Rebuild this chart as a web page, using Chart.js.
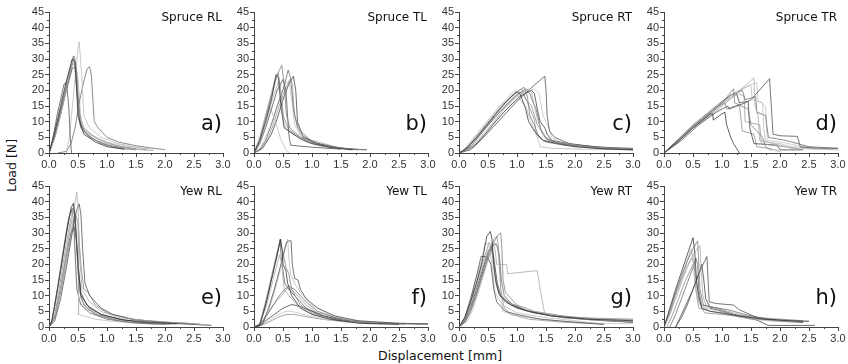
<!DOCTYPE html>
<html>
<head>
<meta charset="utf-8">
<script src="https://cdn.jsdelivr.net/npm/chart.js@4.4.1/dist/chart.umd.min.js"></script>
<style>
  body { margin: 0; background: #fff; }
  #wrap { position: relative; width: 848px; height: 364px; overflow: hidden; }
  canvas { position: absolute; }
  .axis-title { position: absolute; font-family: "DejaVu Sans", Verdana, sans-serif; font-size: 12.5px; color: #111; white-space: nowrap; }
</style>
</head>
<body>
<div id="wrap">
  <div class="axis-title" id="ytitle">Load [N]</div>
  <div class="axis-title" id="xtitle">Displacement [mm]</div>
</div>
<script>
// tick values
const xTicks = [0, 0.5, 1.0, 1.5, 2.0, 2.5, 3.0];
const xMinor = [0.25, 0.75, 1.25, 1.75, 2.25, 2.75];
const yTicks = [0, 5, 10, 15, 20, 25, 30, 35, 40, 45];
const yMinor = [2.5, 7.5, 12.5, 17.5, 22.5, 27.5, 32.5, 37.5, 42.5];

const panelNames = ["Spruce RL", "Spruce TL", "Spruce RT", "Spruce TR", "Yew RL", "Yew TL", "Yew RT", "Yew TR"];
const panelTags = ["a)", "b)", "c)", "d)", "e)", "f)", "g)", "h)"];

// curves: each is a list of [displacement mm, load N]
const spruceRL = [
  [[0,0],[0.1,7],[0.2,15],[0.3,23],[0.4,30],[0.45,29],[0.5,12],[0.6,6],[0.8,3.5],[1.0,2],[1.3,1.2]],
  [[0,0],[0.1,6],[0.2,14],[0.3,22],[0.42,31],[0.47,26],[0.52,10],[0.65,6],[0.9,3],[1.2,1.5],[1.5,1]],
  [[0,0],[0.12,6],[0.25,16],[0.38,28],[0.44,29],[0.5,15],[0.58,7],[0.8,4],[1.1,2],[1.6,1],[1.8,0.8]],
  [[0,0],[0.05,3],[0.15,13],[0.26,22],[0.3,22.5],[0.34,15],[0.37,4],[0.39,0]],
  [[0.3,0],[0.35,5],[0.42,18],[0.48,30],[0.52,35.5],[0.56,26],[0.6,12],[0.7,8],[0.9,5],[1.2,3],[1.6,1.5],[1.7,1.2]],
  [[0.15,0],[0.3,0.5],[0.38,3],[0.45,8],[0.52,16],[0.6,23],[0.66,27],[0.7,27.5],[0.73,25],[0.76,16],[0.78,10],[0.85,8],[1.0,5],[1.2,3.5],[1.5,2.3],[1.8,1.5],[2.0,1.1]],
  [[0,0],[0.1,5],[0.2,12],[0.32,22],[0.43,30.5],[0.47,28],[0.52,13],[0.6,8],[0.8,5],[1.0,3],[1.4,1.5],[1.7,1]],
  [[0,0],[0.08,4],[0.2,13],[0.3,20],[0.4,27],[0.46,27.5],[0.5,18],[0.55,8],[0.7,5],[1.0,2.5],[1.3,1.5]],
  [[0,0],[0.1,5],[0.22,14],[0.35,25],[0.44,31],[0.5,24],[0.56,9],[0.7,6],[1.0,3.5],[1.4,2],[1.8,1.2]],
  [[0,0],[0.1,6],[0.2,14],[0.3,21],[0.4,28],[0.44,28.5],[0.48,20],[0.53,9],[0.65,6.5],[0.9,4],[1.2,2.2],[1.5,1.4]]
];

const spruceTL = [
  [[0,0],[0.1,4],[0.2,10],[0.3,17],[0.38,25],[0.42,24],[0.47,14],[0.52,8],[0.6,7],[0.8,4.5],[1.0,3],[1.3,1.8],[1.7,1]],
  [[0,0],[0.1,4],[0.2,11],[0.3,18],[0.4,25],[0.48,28],[0.52,22],[0.56,12],[0.62,8],[0.8,5],[1.1,2.8],[1.5,1.5],[1.9,1]],
  [[0,0],[0.1,3],[0.2,9],[0.29,15.5],[0.35,19],[0.43,23],[0.48,18],[0.52,9],[0.6,7],[0.9,3.5],[1.2,2],[1.6,1.2]],
  [[0,0],[0.1,3],[0.2,8],[0.3,14],[0.4,20],[0.5,23.5],[0.55,20],[0.6,6],[0.63,2.5],[0.9,2],[1.2,1.6],[1.5,1.2]],
  [[0,0],[0.08,3],[0.16,9],[0.25,15],[0.3,13.5],[0.38,9.5],[0.46,4.5],[0.55,1],[0.6,0]],
  [[0,0],[0.1,1],[0.2,4],[0.3,9],[0.4,15],[0.5,20],[0.59,26.5],[0.63,24],[0.68,14],[0.75,8],[1.0,3.5],[1.3,2],[1.8,1]],
  [[0,0],[0.15,2],[0.25,5],[0.35,10],[0.45,16],[0.55,21],[0.63,23.7],[0.66,22],[0.7,12],[0.8,6],[1.0,4],[1.4,2],[1.75,1]],
  [[0,0],[0.15,1.5],[0.3,6],[0.4,11],[0.5,17],[0.6,22],[0.68,24.5],[0.72,20],[0.75,10],[0.85,5],[1.1,3],[1.5,1.5],[1.95,1]],
  [[0,0],[0.12,2],[0.25,7],[0.35,12],[0.45,18],[0.55,22.5],[0.6,23],[0.65,17],[0.7,9],[0.8,5.5],[1.1,3],[1.4,1.8],[1.7,1]],
  [[0,0],[0.1,5],[0.2,12],[0.3,19],[0.37,24],[0.42,25.5],[0.46,20],[0.5,12],[0.6,7.5],[0.8,5],[1.0,3.2],[1.4,1.8]]
];

const spruceRT = [
  [[0,0],[0.1,1],[0.3,5],[0.5,9.5],[0.7,14],[0.9,18],[1.0,19.5],[1.05,19],[1.15,14],[1.2,10],[1.3,7],[1.45,4],[1.7,3],[2.0,2],[2.5,1.3],[3.0,1]],
  [[0,0],[0.15,1.5],[0.4,7],[0.6,11.5],[0.8,16],[1.0,19.5],[1.12,21],[1.18,18],[1.22,12],[1.3,9],[1.38,5],[1.5,3.5],[1.8,2.5],[2.3,1.6],[3.0,1.1]],
  [[0,0],[0.2,1.5],[0.4,5.5],[0.6,10],[0.8,14.5],[1.0,18],[1.2,20.5],[1.25,19.5],[1.3,15],[1.35,11],[1.4,8],[1.5,5],[1.7,3.5],[2.2,2],[3.0,1.2]],
  [[0,0],[0.2,1],[0.4,4.5],[0.6,8.5],[0.8,12.5],[1.0,16.5],[1.2,20],[1.35,22.5],[1.48,24.5],[1.5,20],[1.52,12],[1.56,7],[1.65,5],[1.9,3],[2.4,1.8],[3.0,1.2]],
  [[0,0],[0.1,1.5],[0.3,6],[0.5,10.5],[0.7,15],[0.9,19],[0.97,19.8],[1.05,17],[1.15,15],[1.2,12],[1.35,5],[1.4,2],[1.6,1.5],[2.2,1.2],[3.0,1]],
  [[0,0],[0.2,2],[0.4,6.5],[0.6,11],[0.8,15],[1.0,18.5],[1.15,20.5],[1.22,19],[1.28,16],[1.33,14],[1.38,10],[1.42,7],[1.5,4.5],[1.8,3],[2.5,1.8],[3.0,1.5]],
  [[0,0],[0.15,2],[0.35,6.5],[0.55,11],[0.75,15.5],[0.95,19],[1.08,20.5],[1.12,19],[1.18,16],[1.25,13],[1.3,10.5],[1.33,6],[1.45,4],[1.7,3.2],[2.3,2],[3.0,1.3]],
  [[0,0],[0.25,2],[0.45,6],[0.65,10.5],[0.85,14.5],[1.05,18],[1.25,20],[1.3,19],[1.35,14],[1.4,10],[1.48,8],[1.52,6],[1.6,4],[2.0,2.5],[2.6,1.5],[3.0,1.2]],
  [[0,0],[0.3,3],[0.5,7],[0.7,11.5],[0.9,15.5],[1.1,19],[1.3,20.5],[1.38,19],[1.42,15],[1.45,12],[1.55,8],[1.6,5],[1.75,3.5],[2.2,2.2],[3.0,1.4]],
  [[0,0],[0.1,1],[0.3,4.5],[0.5,9],[0.7,13],[0.9,17],[1.05,19.5],[1.1,19],[1.15,17],[1.25,15],[1.3,12],[1.35,9],[1.45,6],[1.55,4],[1.9,2.5],[2.6,1.3],[3.0,1]]
];

const spruceTR = [
  [[0,0],[0.2,3],[0.5,8],[0.8,12.5],[0.84,12.5],[0.85,10.5],[1.0,12.5],[1.05,13],[1.08,9],[1.15,5],[1.2,3],[1.3,0]],
  [[0,0],[0.2,3.5],[0.5,8.5],[0.8,13],[1.0,16],[1.2,20.5],[1.22,16],[1.45,14],[1.5,9],[1.7,5],[1.75,2],[1.85,0.8]],
  [[0,0],[0.2,3],[0.5,8],[0.8,12.5],[1.0,15.5],[1.2,18.5],[1.4,21.5],[1.55,24],[1.57,15],[1.62,12],[1.65,4],[1.9,3],[2.2,1.5],[3.0,1]],
  [[0,0],[0.3,4],[0.6,9],[0.9,13],[1.1,15],[1.12,14],[1.4,16],[1.5,17],[1.82,23.7],[1.85,15],[1.88,6],[2.0,5.5],[2.3,5.3],[2.35,2],[2.6,1.5],[3.0,1.5]],
  [[0,0],[0.2,3],[0.5,8.5],[0.8,13],[1.0,16],[1.2,19],[1.4,21],[1.5,21.5],[1.52,17],[1.7,16],[1.72,8],[1.75,3.5],[2.0,3],[2.2,2],[2.6,1.5]],
  [[0,0],[0.2,3.5],[0.5,9],[0.8,13.5],[1.0,16.5],[1.2,19],[1.35,20],[1.4,17],[1.58,18],[1.6,13],[1.75,12],[1.8,5],[2.1,4],[2.5,2],[3.0,1.5]],
  [[0,0],[0.2,3],[0.5,8],[0.8,12],[1.0,15],[1.2,18],[1.3,19],[1.38,18],[1.4,10],[1.65,9],[1.68,3],[1.85,2.5],[2.3,1.5]],
  [[0,0],[0.2,3.5],[0.5,8.5],[0.8,13],[1.0,16],[1.15,18.5],[1.25,19],[1.3,16],[1.45,16.5],[1.48,8],[1.55,3],[1.95,2.5],[2.0,1],[2.4,1]],
  [[0,0],[0.25,3.5],[0.55,9],[0.85,13.5],[1.05,16.5],[1.25,19],[1.45,21.5],[1.6,22.5],[1.62,17],[1.75,15],[1.78,4],[2.0,3.5],[2.4,2],[2.8,1.5]],
  [[0,0],[0.2,3],[0.5,8],[0.8,12.5],[0.95,15],[1.05,16],[1.08,14],[1.3,15.5],[1.35,7],[1.55,6],[1.6,2],[1.8,1.5],[2.0,0.5]]
];

const yewRL = [
  [[0,0],[0.05,2],[0.1,7],[0.2,18],[0.3,30],[0.38,38],[0.42,39.5],[0.45,35],[0.5,20],[0.55,10],[0.7,6],[0.9,4],[1.2,2.5],[1.6,1.5],[2.2,1]],
  [[0,0],[0.05,1.5],[0.15,12],[0.25,24],[0.35,35],[0.4,38],[0.44,36],[0.48,25],[0.52,12],[0.6,7],[0.8,4],[1.1,2.3],[1.5,1.3],[2.0,0.8]],
  [[0,0],[0.1,3],[0.2,12],[0.3,24],[0.4,35],[0.45,40],[0.48,43],[0.5,38],[0.53,22],[0.57,12],[0.7,8],[0.9,5],[1.2,3],[1.7,2],[2.3,1.3],[2.8,0.6]],
  [[0,0],[0.1,2],[0.2,9],[0.3,19],[0.4,30],[0.47,37],[0.52,39.3],[0.55,36],[0.58,25],[0.62,14],[0.7,10],[0.9,6],[1.1,4],[1.5,2.3],[2.0,1.5],[2.5,1]],
  [[0,0],[0.1,3],[0.2,12],[0.3,22],[0.4,31],[0.47,35],[0.5,33],[0.51,4],[0.6,3.5],[0.8,2.5],[1.1,1.8],[1.5,1.2],[1.9,0.8]],
  [[0,0],[0.05,2],[0.15,13],[0.25,25],[0.33,34],[0.38,37.5],[0.42,35],[0.45,24],[0.48,12],[0.55,7],[0.7,4.5],[1.0,2.5],[1.4,1.4],[1.8,1]],
  [[0,0],[0.1,4],[0.2,15],[0.3,27],[0.38,35],[0.43,38.5],[0.46,33],[0.5,18],[0.55,9],[0.65,6],[0.85,4],[1.2,2],[1.6,1.2],[2.1,0.8]],
  [[0,0],[0.1,3],[0.2,12],[0.3,23],[0.38,30],[0.43,32],[0.47,28],[0.5,20],[0.55,11],[0.65,7],[0.9,4],[1.3,2.2],[1.8,1.5],[2.8,0.5]],
  [[0,0],[0.08,2],[0.18,11],[0.28,22],[0.36,31],[0.4,34],[0.43,30],[0.47,15],[0.52,8],[0.65,5.5],[0.9,3.5],[1.3,2],[1.7,1.3],[2.2,1]],
  [[0,0],[0.1,3],[0.2,11],[0.3,21],[0.4,32],[0.46,36],[0.5,33],[0.55,20],[0.6,12],[0.68,11],[0.8,7],[1.0,4.5],[1.4,2.5],[2.0,1.5],[2.6,1]]
];

const yewTL = [
  [[0,0],[0.1,0.5],[0.2,7],[0.3,15],[0.4,23],[0.46,28],[0.49,24],[0.5,20],[0.55,18],[0.58,14],[0.65,10],[0.8,6],[1.0,4],[1.3,2.5],[1.8,1.2],[2.5,0.8]],
  [[0,0],[0.1,1],[0.2,8],[0.3,16],[0.4,24],[0.45,27.5],[0.48,25],[0.52,22],[0.55,19],[0.6,17],[0.65,12],[0.8,7],[1.0,4.5],[1.4,2.3],[2.0,1.2],[3.0,0.8]],
  [[0,0],[0.1,1],[0.2,6],[0.3,13],[0.4,20],[0.44,23],[0.48,20],[0.52,12],[0.6,10],[0.75,7],[1.0,4],[1.5,2],[2.0,1]],
  [[0,0],[0.15,1],[0.25,6],[0.35,12],[0.45,19],[0.52,24],[0.56,27],[0.6,27.5],[0.64,27.5],[0.66,20],[0.7,15.5],[0.76,15],[0.8,12],[0.9,9],[1.1,6],[1.4,3.5],[1.8,2],[2.5,1.2],[3.0,1]],
  [[0,0],[0.15,1],[0.25,5],[0.35,11],[0.45,18],[0.53,25],[0.58,28],[0.6,22],[0.63,17],[0.7,14],[0.8,11],[1.0,7],[1.3,4],[1.7,2],[2.2,1.2]],
  [[0,0],[0.1,0.5],[0.2,3],[0.3,6],[0.4,9],[0.5,11.5],[0.6,13],[0.7,12],[0.8,10],[0.9,8],[1.1,5],[1.4,3],[1.8,1.8],[2.3,1.2],[3.0,1]],
  [[0,0],[0.1,0.8],[0.2,3.5],[0.35,7.5],[0.5,10.5],[0.58,12.5],[0.65,12],[0.75,10],[0.9,7],[1.1,4.5],[1.5,2.5],[2.0,1.5],[2.6,1]],
  [[0,0],[0.1,0.5],[0.2,2],[0.35,4],[0.5,6],[0.65,7.2],[0.8,6.5],[1.0,5],[1.2,3.5],[1.5,2.2],[2.0,1.3],[2.6,1]],
  [[0,0],[0.1,0.5],[0.25,2],[0.4,3.8],[0.55,5],[0.65,5],[0.8,4.3],[1.0,3.3],[1.3,2.2],[1.7,1.5],[2.2,1]],
  [[0,0],[0.1,0.3],[0.25,1.5],[0.4,3],[0.55,4],[0.7,4],[0.9,3.3],[1.2,2.4],[1.6,1.6],[2.0,1.2]],
  [[0,0],[0.1,1],[0.2,7],[0.3,15],[0.4,23],[0.45,28],[0.47,22],[0.5,18],[0.53,14],[0.6,12],[0.7,10],[0.9,6],[1.2,3.5],[1.6,2],[2.2,1]]
];

const yewRT = [
  [[0,0],[0.1,3],[0.2,8],[0.3,14],[0.4,21],[0.48,29],[0.54,30.5],[0.57,28],[0.6,20],[0.64,14],[0.7,10],[0.9,7],[1.2,5],[1.6,3.5],[2.2,2.5],[3.0,2]],
  [[0,0],[0.1,2],[0.2,6],[0.3,11],[0.4,17],[0.5,23],[0.6,27],[0.68,29.5],[0.72,30],[0.74,25],[0.76,15],[0.8,11],[1.0,7],[1.3,5],[1.8,3.5],[2.4,2.5],[3.0,2.2]],
  [[0,0],[0.1,2],[0.2,7],[0.3,13],[0.4,19],[0.5,24],[0.58,27],[0.62,25],[0.65,20],[0.82,20],[0.84,17],[1.35,18],[1.4,12],[1.48,4],[1.8,3],[2.3,2.2],[3.0,1.8]],
  [[0,0],[0.1,3],[0.2,9],[0.3,16],[0.38,22.5],[0.45,22.5],[0.5,22],[0.55,20],[0.6,12],[0.65,8],[0.8,5],[1.0,4],[1.4,2.5],[2.0,1.5],[2.5,0.8]],
  [[0,0],[0.1,3],[0.2,9],[0.3,16],[0.4,22],[0.45,27],[0.52,26],[0.58,18],[0.62,11],[0.75,7],[1.0,4.5],[1.5,3],[2.0,2],[2.4,1]],
  [[0,0],[0.1,1.5],[0.2,5],[0.3,10],[0.4,16],[0.5,22],[0.58,26],[0.65,26.5],[0.7,22],[0.73,15],[0.78,10],[0.9,7.5],[1.2,5],[1.6,3.5],[2.2,2.5],[3.0,1.5]],
  [[0,0],[0.12,2],[0.22,6],[0.32,12],[0.42,18],[0.52,24],[0.6,28],[0.65,29],[0.68,26],[0.72,12],[0.78,6],[0.9,4],[1.2,2.5],[1.8,1.5],[2.5,1]],
  [[0,0],[0.1,2],[0.2,6.5],[0.3,12],[0.4,18],[0.5,24],[0.56,26],[0.6,22],[0.66,14],[0.72,10],[0.8,8],[1.0,6],[1.3,4.5],[1.8,3],[2.5,2],[3.0,1.5]],
  [[0,0],[0.15,2],[0.25,6],[0.35,12],[0.45,18],[0.55,24],[0.62,27],[0.67,25],[0.7,18],[0.75,5],[0.9,4],[1.2,3],[1.7,2],[2.4,1.2],[3.0,1]],
  [[0,0],[0.1,2.5],[0.2,8],[0.3,14],[0.4,20],[0.47,24],[0.52,27],[0.55,26],[0.58,22],[0.62,16],[0.68,11],[0.85,8],[1.1,5.5],[1.5,4],[2.0,3],[3.0,2.5]]
];

const yewTR = [
  [[0,0],[0.1,6],[0.2,12],[0.3,17.5],[0.4,23],[0.5,28.5],[0.53,24],[0.56,15],[0.6,10],[0.65,6],[0.8,5],[1.0,4.5],[1.3,3.5],[1.7,2.5],[2.2,2],[2.5,1.8]],
  [[0,0],[0.1,5],[0.2,11],[0.3,16],[0.4,21],[0.5,25],[0.58,27.5],[0.6,20],[0.62,12],[0.68,7],[0.9,6],[1.2,4],[1.6,3],[2.0,2.5],[2.4,2]],
  [[0,0],[0.1,4],[0.2,9],[0.3,14],[0.4,19],[0.5,23],[0.62,26],[0.64,18],[0.67,10],[0.72,7],[1.0,5.5],[1.3,4],[1.7,2.5],[2.3,1.5]],
  [[0.2,0],[0.3,4],[0.4,8],[0.5,12],[0.6,17],[0.7,21],[0.74,22.5],[0.76,15],[0.78,8],[0.9,7.5],[1.2,7],[1.3,5.5],[1.6,3],[2.0,2],[2.4,1.5]],
  [[0,0],[0.1,5],[0.2,11],[0.3,16],[0.4,21],[0.47,25],[0.5,22],[0.53,14],[0.58,8],[0.7,6],[1.0,5],[1.4,3],[1.8,2],[2.2,1.5]],
  [[0.1,0],[0.2,4],[0.3,9],[0.4,14],[0.5,19],[0.55,22],[0.58,20],[0.6,12],[0.65,7],[0.8,6.5],[1.1,5.5],[1.4,4],[1.8,2.5],[2.4,1.5]],
  [[0,0],[0.1,4],[0.2,10],[0.3,15],[0.4,19.5],[0.48,22],[0.52,20],[0.55,12],[0.6,6],[0.8,5],[1.2,3.5],[1.5,2.5],[1.9,2],[2.4,1.5]],
  [[0.2,0],[0.3,3],[0.4,7],[0.5,12],[0.6,17],[0.65,20],[0.68,16],[0.72,9],[0.8,6],[1.0,5],[1.3,3.5],[1.6,2.2],[1.8,0.5],[2.6,0.5]],
  [[0,0],[0.1,5],[0.2,11],[0.3,16.5],[0.4,21],[0.45,24],[0.5,23],[0.54,18],[0.58,9],[0.65,6.5],[0.9,6],[1.1,4],[1.5,3],[2.0,2.2],[2.5,2]],
  [[0.05,0],[0.15,4],[0.25,9],[0.35,14],[0.45,18],[0.5,20],[0.55,16],[0.6,8],[0.7,4.5],[1.0,4],[1.3,3.5],[1.7,2.5],[2.1,1.8]]
];

const panelCurves = [spruceRL, spruceTL, spruceRT, spruceTR, yewRL, yewTL, yewRT, yewTR];

// look
const lineColors = ["#2e2e2e", "#7a7a7a", "#a6a6a6", "#4a4a4a", "#b8b8b8", "#666", "#959595", "#3a3a3a", "#c2c2c2", "#858585", "#5a5a5a"];
const axisLeft = [49, 254, 459, 664];
const plotTop = [12, 186];
const plotW = 174, plotH = 141;
const padL = 40, padR = 12, padT = 8, padB = 20;
const tickFont = { family: "'Liberation Sans', Arial, sans-serif", size: 11 };

const wrap = document.getElementById("wrap");
const yt = document.getElementById("ytitle");
yt.style.left = "-15px"; yt.style.top = "158px"; yt.style.transform = "rotate(-90deg)";
const xt = document.getElementById("xtitle");
xt.style.left = "378px"; xt.style.top = "348px";

const minorTicks = {
  id: "minorTicks",
  afterDraw(chart) {
    const c = chart.ctx, x = chart.scales.x, y = chart.scales.y;
    c.save();
    c.strokeStyle = "#444";
    c.lineWidth = 1;
    c.beginPath();
    yMinor.forEach(v => {
      const py = Math.round(y.getPixelForValue(v)) + 0.5;
      c.moveTo(x.left - 2, py); c.lineTo(x.left, py);
    });
    xMinor.forEach(v => {
      const px = Math.round(x.getPixelForValue(v)) + 0.5;
      c.moveTo(px, y.bottom); c.lineTo(px, y.bottom + 2);
    });
    c.stroke();
    c.restore();
  }
};

const panelText = {
  id: "panelText",
  afterDraw(chart, args, opts) {
    const c = chart.ctx, a = chart.chartArea;
    c.save();
    c.fillStyle = "#111";
    c.textAlign = "right";
    c.textBaseline = "middle";
    c.font = "12px 'DejaVu Sans', Verdana, sans-serif";
    c.fillText(opts.name, a.right - 1, a.top + 6);
    c.font = "21px 'DejaVu Sans', Verdana, sans-serif";
    c.fillText(opts.tag, a.right - 1, a.top + 113);
    c.restore();
  }
};

panelCurves.forEach((curves, i) => {
  const col = i % 4, row = Math.floor(i / 4);
  const cv = document.createElement("canvas");
  cv.width = padL + plotW + padR;
  cv.height = padT + plotH + padB;
  cv.style.left = (axisLeft[col] - padL) + "px";
  cv.style.top = (plotTop[row] - padT) + "px";
  wrap.appendChild(cv);

  const datasets = curves.map((pts, k) => ({
    data: pts.map(p => ({ x: p[0], y: p[1] })),
    showLine: true,
    borderColor: lineColors[k % lineColors.length],
    borderWidth: 0.75,
    pointRadius: 0,
    tension: 0
  }));

  new Chart(cv, {
    type: "scatter",
    data: { datasets },
    options: {
      responsive: false,
      animation: false,
      layout: { padding: { left: 0, right: padR, top: padT, bottom: 0 } },
      plugins: {
        legend: { display: false },
        tooltip: { enabled: false },
        panelText: { name: panelNames[i], tag: panelTags[i] }
      },
      scales: {
        x: {
          type: "linear", min: 0, max: 3,
          afterBuildTicks: s => { s.ticks = xTicks.map(v => ({ value: v })); },
          afterFit: s => { s.height = padB; },
          ticks: { font: tickFont, color: "#333", padding: 1, maxRotation: 0, autoSkip: false, callback: v => v.toFixed(1) },
          grid: { drawOnChartArea: false, tickLength: 4, color: "#444" },
          border: { color: "#444", width: 1 }
        },
        y: {
          type: "linear", min: 0, max: 45,
          afterBuildTicks: s => { s.ticks = yTicks.map(v => ({ value: v })); },
          afterFit: s => { s.width = padL; },
          ticks: { font: tickFont, color: "#333", padding: 1, autoSkip: false, callback: v => String(v) },
          grid: { drawOnChartArea: false, tickLength: 4, color: "#444" },
          border: { color: "#444", width: 1 }
        }
      }
    },
    plugins: [minorTicks, panelText]
  });
});
</script>
</body>
</html>
